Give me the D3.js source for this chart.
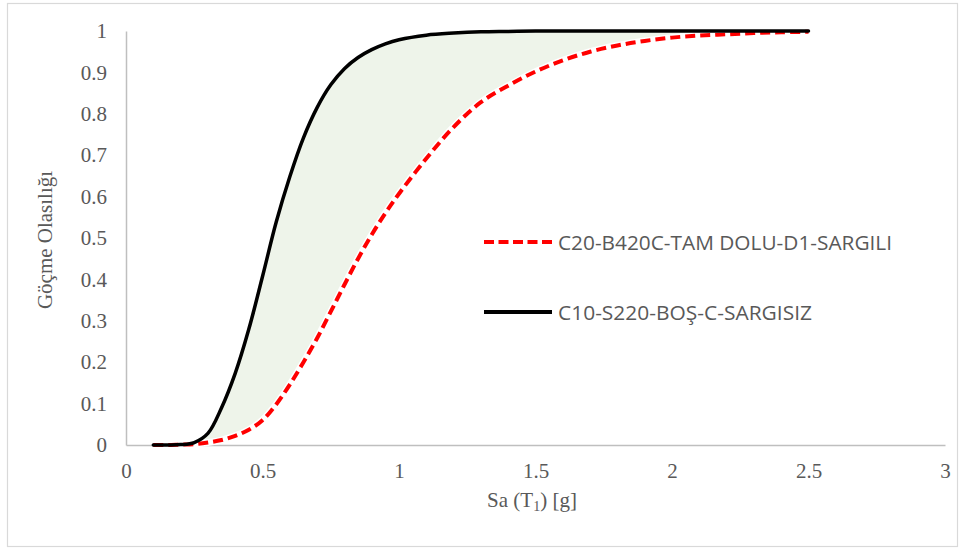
<!DOCTYPE html>
<html>
<head>
<meta charset="utf-8">
<script src="https://cdn.jsdelivr.net/npm/d3@7"></script>
<style>
  html, body { margin: 0; padding: 0; background: #fff; }
  svg { display: block; }
</style>
</head>
<body>
<svg id="chart" width="960" height="549"></svg>
<script>
// Spectral acceleration grid, Sa(T1) in g
const sa = [0.1, 0.15, 0.2, 0.25, 0.3, 0.35, 0.4, 0.45, 0.5, 0.55, 0.6, 0.65, 0.7, 0.75,
            0.8, 0.85, 0.9, 0.95, 1.0, 1.1, 1.2, 1.3, 1.4, 1.5, 1.6, 1.7, 1.8, 1.9, 2.0,
            2.1, 2.2, 2.3, 2.4, 2.5];

// Collapse probability, C10-S220-BOŞ-C-SARGISIZ
const pBos = [0, 0.0002, 0.001, 0.006, 0.028, 0.09, 0.173, 0.28, 0.407, 0.538, 0.648, 0.742,
              0.815, 0.87, 0.909, 0.936, 0.955, 0.969, 0.979, 0.99, 0.995, 0.998, 0.999, 1,
              1, 1, 1, 1, 1, 1, 1, 1, 1, 1];

// Collapse probability, C20-B420C-TAM DOLU-D1-SARGILI
const pDolu = [0, 0, 0.001, 0.002, 0.006, 0.012, 0.022, 0.037, 0.06, 0.098, 0.146, 0.2,
               0.258, 0.322, 0.387, 0.45, 0.508, 0.56, 0.607, 0.692, 0.768, 0.828, 0.868,
               0.902, 0.929, 0.95, 0.965, 0.976, 0.984, 0.989, 0.992, 0.995, 0.997, 0.998];

const xTicks = [0, 0.5, 1, 1.5, 2, 2.5, 3];
const yTicks = [0, 0.1, 0.2, 0.3, 0.4, 0.5, 0.6, 0.7, 0.8, 0.9, 1];

const seriesNames = ["C20-B420C-TAM DOLU-D1-SARGILI", "C10-S220-BOŞ-C-SARGISIZ"];

const svg = d3.select("#chart");
const W = 960, H = 549;
const plot = { left: 126, right: 945, top: 31, bottom: 445 };

// outer chart frame
svg.append("rect")
  .attr("x", 7.5).attr("y", 3.5)
  .attr("width", W - 10).attr("height", H - 6)
  .attr("fill", "#fff").attr("stroke", "#d9d9d9").attr("stroke-width", 1.2);

const x = d3.scaleLinear().domain([0, 3]).range([plot.left, plot.right]);
const y = d3.scaleLinear().domain([0, 1]).range([plot.bottom, plot.top]);

const rows = sa.map((s, i) => ({ s, a: pBos[i], b: pDolu[i] }));
const smooth = d3.curveCatmullRom.alpha(0.5);

// shaded band between the two fragility curves
const band = d3.area()
  .x(d => x(d.s))
  .y0(d => y(d.b))
  .y1(d => y(d.a))
  .curve(smooth);
svg.append("path")
  .datum(rows)
  .attr("d", band)
  .attr("fill", "#eef4ea");

// axes
const tickFont = "'Liberation Serif', 'Times New Roman', serif";
const xAxis = d3.axisBottom(x).tickValues(xTicks).tickSize(0).tickPadding(18)
  .tickFormat(d3.format("~g"));
const gx = svg.append("g").attr("transform", `translate(0,${plot.bottom})`).call(xAxis);
gx.select(".domain").attr("stroke", "#bfbfbf").attr("stroke-width", 1.5);
gx.selectAll("text").attr("font-family", tickFont).attr("font-size", 21).attr("fill", "#595959");

const yAxis = d3.axisLeft(y).tickValues(yTicks).tickSize(0).tickPadding(19)
  .tickFormat(d3.format("~g"));
const gy = svg.append("g").attr("transform", `translate(${plot.left},0)`).call(yAxis);
gy.select(".domain").attr("stroke", "#bfbfbf").attr("stroke-width", 1.5);
gy.selectAll("text").attr("font-family", tickFont).attr("font-size", 21).attr("fill", "#595959");

// lines
const lineA = d3.line().x(d => x(d.s)).y(d => y(d.a)).curve(smooth);
const lineB = d3.line().x(d => x(d.s)).y(d => y(d.b)).curve(smooth);

svg.append("path").datum(rows).attr("d", lineB)
  .attr("fill", "none").attr("stroke", "#fff").attr("stroke-width", 7);
svg.append("path").datum(rows).attr("d", lineB)
  .attr("fill", "none").attr("stroke", "#ff0000").attr("stroke-width", 4)
  .attr("stroke-dasharray", "10,5");
svg.append("path").datum(rows).attr("d", lineA)
  .attr("fill", "none").attr("stroke", "#000").attr("stroke-width", 3.5)
  .attr("stroke-linecap", "round");

// axis titles
const xt = svg.append("text")
  .attr("x", 532).attr("y", 507)
  .attr("text-anchor", "middle")
  .attr("font-family", tickFont).attr("font-size", 21).attr("fill", "#595959");
xt.append("tspan").text("Sa (T");
xt.append("tspan").attr("font-size", 14).attr("dy", 4).text("1");
xt.append("tspan").attr("dy", -4).text(") [g]");

svg.append("text")
  .attr("transform", "translate(52,240) rotate(-90)")
  .attr("text-anchor", "middle")
  .attr("font-family", tickFont).attr("font-size", 21).attr("fill", "#595959")
  .text("Göçme Olasılığı");

// legend
const legendFont = "'Open Sans', 'Liberation Sans', sans-serif";
const legend = [
  { name: seriesNames[0], y: 242, color: "#ff0000", dash: "10,4.5", width: 4, len: 334 },
  { name: seriesNames[1], y: 312, color: "#000", dash: null, width: 4, len: 254 }
];
const lg = svg.append("g");
legend.forEach(l => {
  lg.append("line")
    .attr("x1", 484).attr("x2", 552).attr("y1", l.y).attr("y2", l.y)
    .attr("stroke", l.color).attr("stroke-width", l.width)
    .attr("stroke-dasharray", l.dash);
  lg.append("text")
    .attr("x", 558).attr("y", l.y + 8)
    .attr("font-family", legendFont).attr("font-size", 20).attr("fill", "#595959")
    .attr("textLength", l.len).attr("lengthAdjust", "spacingAndGlyphs")
    .text(l.name);
});
</script>
</body>
</html>
